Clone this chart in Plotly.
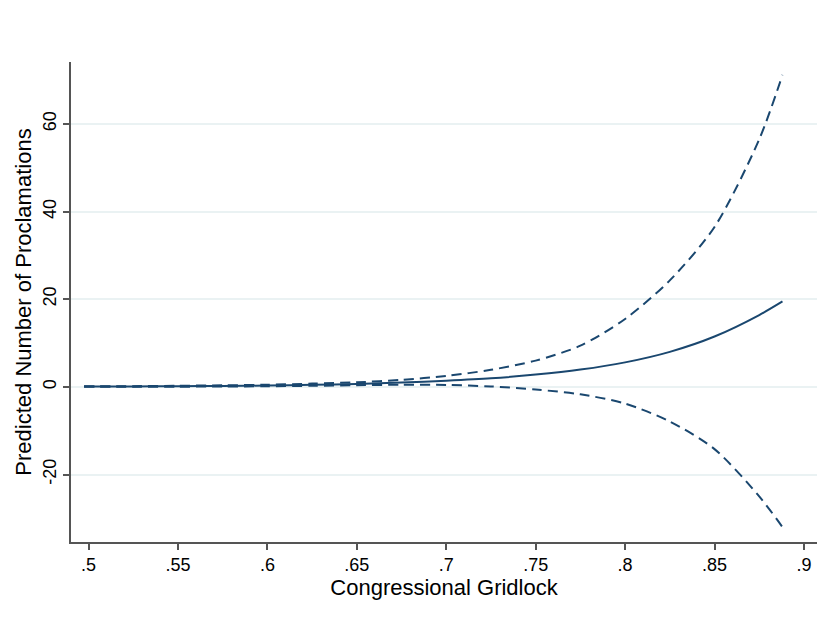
import plotly.graph_objects as go

gridlock = [0.4975, 0.525, 0.55, 0.575, 0.60, 0.625, 0.65, 0.675, 0.70, 0.725, 0.75, 0.775, 0.80, 0.825, 0.85, 0.875, 0.888]
predicted = [0.07, 0.1, 0.15, 0.22, 0.32, 0.47, 0.68, 0.98, 1.4, 1.95, 2.8, 3.95, 5.6, 8.0, 11.5, 16.4, 19.5]
upper_ci = [0.12, 0.17, 0.25, 0.36, 0.5, 0.75, 1.05, 1.6, 2.5, 3.9, 6.0, 9.4, 15.5, 24.3, 36.5, 56.5, 71.2]
lower_ci = [0.02, 0.03, 0.05, 0.09, 0.14, 0.25, 0.38, 0.5, 0.45, 0.1, -0.6, -1.7, -3.8, -7.9, -14.2, -25.0, -32.0]

x_ticks = [0.5, 0.55, 0.6, 0.65, 0.7, 0.75, 0.8, 0.85, 0.9]
x_ticklabels = [".5", ".55", ".6", ".65", ".7", ".75", ".8", ".85", ".9"]
y_ticks = [-20, 0, 20, 40, 60]
y_ticklabels = ["-20", "0", "20", "40", "60"]

navy = "#1a476f"
font = "Liberation Sans, Arial, Helvetica, sans-serif"

fig = go.Figure()
fig.add_trace(go.Scatter(x=gridlock, y=upper_ci, mode="lines", line=dict(color=navy, width=2, dash="10px,6px", shape="spline", smoothing=0.8), showlegend=False))
fig.add_trace(go.Scatter(x=gridlock, y=lower_ci, mode="lines", line=dict(color=navy, width=2, dash="10px,6px", shape="spline", smoothing=0.8), showlegend=False))
fig.add_trace(go.Scatter(x=gridlock, y=predicted, mode="lines", line=dict(color=navy, width=2, shape="spline", smoothing=0.8), showlegend=False))

# page body adds an 8px offset, so the figure is sized/margined to compensate
fig.update_layout(
    width=820, height=614,
    margin=dict(l=63, r=11, t=54, b=80),
    paper_bgcolor="white", plot_bgcolor="white",
    font=dict(family=font, size=18, color="black"),
    xaxis=dict(
        range=[0.4902, 0.9073], tickvals=x_ticks, ticktext=x_ticklabels, automargin=False,
        showgrid=False, zeroline=False, showline=True, linecolor="#555555", linewidth=1.5,
        ticks="outside", ticklen=6, tickcolor="#555555", tickwidth=1.5,
        title=dict(text="Congressional Gridlock", standoff=2),
    ),
    yaxis=dict(
        range=[-35.4, 74.15], tickvals=y_ticks, ticktext=y_ticklabels, tickangle=-90, automargin=False,
        showgrid=True, gridcolor="#eaf2f3", gridwidth=1.5, zeroline=False,
        showline=True, linecolor="#555555", linewidth=1.5,
        ticks="outside", ticklen=6, tickcolor="#555555", tickwidth=1.5,
        title=dict(text="Predicted Number of Proclamations", standoff=2),
    ),
)
fig.write_html("out.html")
